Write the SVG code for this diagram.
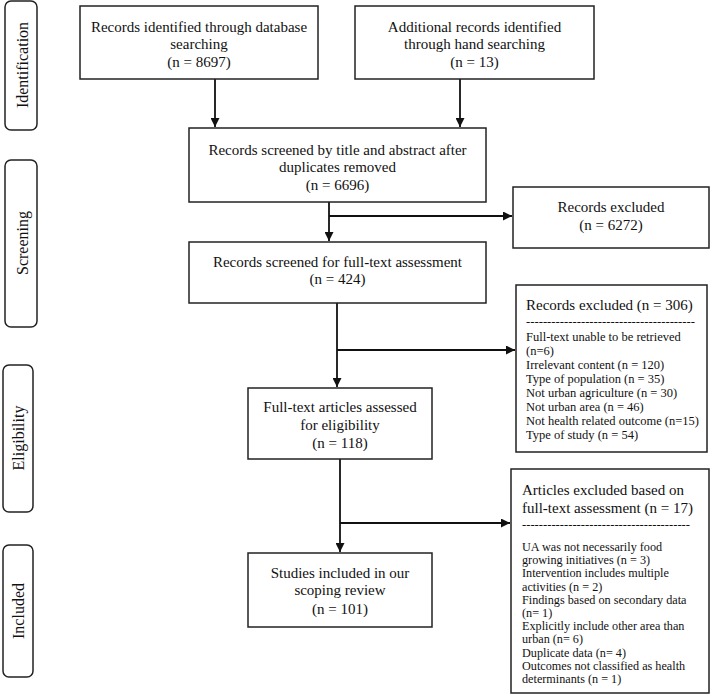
<svg xmlns="http://www.w3.org/2000/svg" width="710" height="695" viewBox="0 0 710 695">
<style>
.box{fill:#fff;stroke:#222;stroke-width:1.5}
.side{fill:#fff;stroke:#222;stroke-width:1.5}
.t{font-family:"Liberation Serif","Times New Roman",serif;font-size:15px;fill:#111;text-anchor:middle}
.tl{font-family:"Liberation Serif","Times New Roman",serif;font-size:15px;fill:#111}
.s{font-family:"Liberation Serif","Times New Roman",serif;font-size:12.5px;fill:#111}
.s2{font-family:"Liberation Serif","Times New Roman",serif;font-size:12.2px;fill:#111}
.lab{font-family:"Liberation Serif","Times New Roman",serif;font-size:16px;fill:#111;text-anchor:middle}
.c{fill:none;stroke:#111;stroke-width:1.8}
</style>
<defs>
<marker id="ah" viewBox="0 0 10 10" refX="10" refY="5" markerWidth="5" markerHeight="5" orient="auto" markerUnits="strokeWidth">
<path d="M0,0 L10,5 L0,10 z" fill="#111"/>
</marker>
</defs>
<g id="lab-identification"><rect class="side" x="5" y="1" width="32" height="129" rx="6"/><text class="lab" transform="translate(28,65) rotate(-90)">Identification</text></g>
<g id="lab-screening"><rect class="side" x="5" y="160" width="32" height="167" rx="6"/><text class="lab" transform="translate(28,243) rotate(-90)">Screening</text></g>
<g id="lab-eligibility"><rect class="side" x="3" y="365" width="30" height="147" rx="6"/><text class="lab" transform="translate(24,438) rotate(-90)">Eligibility</text></g>
<g id="lab-included"><rect class="side" x="3" y="545" width="30" height="132" rx="6"/><text class="lab" transform="translate(24,611) rotate(-90)">Included</text></g>
<g id="connectors">
<path class="c" d="M215,79 V127" marker-end="url(#ah)"/>
<path class="c" d="M460,79 V127" marker-end="url(#ah)"/>
<path class="c" d="M329,202 V241" marker-end="url(#ah)"/>
<path class="c" d="M329,216 H512" marker-end="url(#ah)"/>
<path class="c" d="M337,303 V387" marker-end="url(#ah)"/>
<path class="c" d="M337,350 H515" marker-end="url(#ah)"/>
<path class="c" d="M340,459 V552" marker-end="url(#ah)"/>
<path class="c" d="M340,523 H510" marker-end="url(#ah)"/>
</g>
<g id="n1"><rect class="box" x="80" y="6" width="238" height="73"/>
<text class="t" x="199" y="32">Records identified through database</text>
<text class="t" x="199" y="49">searching</text>
<text class="t" x="199" y="67">(n = 8697)</text></g>
<g id="n2"><rect class="box" x="355" y="6" width="239" height="73"/>
<text class="t" x="474.5" y="32">Additional records identified</text>
<text class="t" x="474.5" y="49">through hand searching</text>
<text class="t" x="474.5" y="67">(n = 13)</text></g>
<g id="n3"><rect class="box" x="189" y="128" width="297" height="74"/>
<text class="t" x="337.5" y="155">Records screened by title and abstract after</text>
<text class="t" x="337.5" y="172">duplicates removed</text>
<text class="t" x="337.5" y="190">(n = 6696)</text></g>
<g id="n4"><rect class="box" x="513" y="187" width="196" height="61"/>
<text class="t" x="611" y="212">Records excluded</text>
<text class="t" x="611" y="230">(n = 6272)</text></g>
<g id="n5"><rect class="box" x="189" y="242" width="297" height="61"/>
<text class="t" x="337.5" y="267">Records screened for full-text assessment</text>
<text class="t" x="337.5" y="284">(n = 424)</text></g>
<g id="n6"><rect class="box" x="516" y="285" width="191" height="167"/>
<text class="tl" x="526" y="310">Records excluded (n = 306)</text>
<text class="s" x="526" y="326" textLength="169" lengthAdjust="spacingAndGlyphs">----------------------------------------</text>
<text class="s" x="526" y="341">Full-text unable to be retrieved</text>
<text class="s" x="526" y="355">(n=6)</text>
<text class="s" x="526" y="369">Irrelevant content (n = 120)</text>
<text class="s" x="526" y="383">Type of population (n = 35)</text>
<text class="s" x="526" y="397">Not urban agriculture (n = 30)</text>
<text class="s" x="526" y="411">Not urban area (n = 46)</text>
<text class="s" x="526" y="425">Not health related outcome (n=15)</text>
<text class="s" x="526" y="439">Type of study (n = 54)</text></g>
<g id="n7"><rect class="box" x="248" y="388" width="184" height="71"/>
<text class="t" x="340" y="412">Full-text articles assessed</text>
<text class="t" x="340" y="430">for eligibility</text>
<text class="t" x="340" y="448">(n = 118)</text></g>
<g id="n8"><rect class="box" x="511" y="469" width="198" height="224"/>
<text class="tl" x="522" y="495">Articles excluded based on</text>
<text class="tl" x="522" y="513">full-text assessment (n = 17)</text>
<text class="s2" x="522" y="528" textLength="168" lengthAdjust="spacingAndGlyphs">----------------------------------------</text>
<text class="s2" x="522" y="551">UA was not necessarily food</text>
<text class="s2" x="522" y="564.2">growing initiatives (n = 3)</text>
<text class="s2" x="522" y="577.4">Intervention includes multiple</text>
<text class="s2" x="522" y="590.6">activities (n = 2)</text>
<text class="s2" x="522" y="603.8">Findings based on secondary data</text>
<text class="s2" x="522" y="617">(n= 1)</text>
<text class="s2" x="522" y="630.2">Explicitly include other area than</text>
<text class="s2" x="522" y="643.4">urban (n= 6)</text>
<text class="s2" x="522" y="656.6">Duplicate data (n= 4)</text>
<text class="s2" x="522" y="669.8">Outcomes not classified as health</text>
<text class="s2" x="522" y="683">determinants (n = 1)</text></g>
<g id="n9"><rect class="box" x="248" y="553" width="184" height="74"/>
<text class="t" x="340" y="578">Studies included in our</text>
<text class="t" x="340" y="595">scoping review</text>
<text class="t" x="340" y="614">(n = 101)</text></g>
</svg>
